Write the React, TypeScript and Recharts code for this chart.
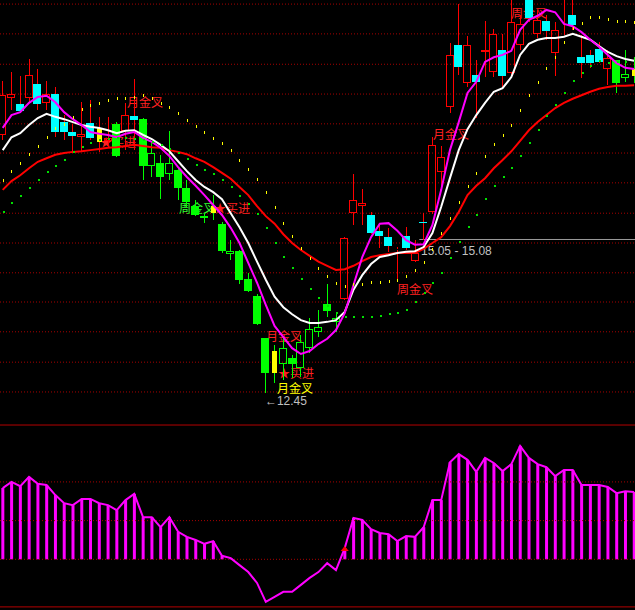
import React from 'react';
import {
  ComposedChart,
  Bar,
  Line,
  Scatter,
  XAxis,
  YAxis,
  ReferenceLine,
  ReferenceDot,
} from 'recharts';

// candle data (price), one per bar
const opens = [16.87, 17.50, 17.40, 17.50, 17.74, 17.42, 17.57, 17.09, 16.92, 16.83, 17.07, 16.99, 16.77, 17.06, 16.94, 17.19, 17.14, 16.34, 16.39, 16.20, 16.27, 15.96, 15.65, 15.48, 15.65, 15.35, 14.83, 14.88, 14.40, 14.11, 13.39, 13.17, 12.95, 13.05, 12.88, 13.22, 13.50, 13.98, 13.67, 14.06, 15.53, 15.65, 15.50, 15.23, 15.12, 14.90, 15.14, 14.71, 15.38, 15.55, 16.24, 17.35, 18.41, 17.76, 17.90, 18.29, 17.95, 18.32, 17.93, 18.41, 19.20, 18.60, 18.82, 18.27, 18.77, 18.92, 18.20, 18.24, 18.34, 18.00, 18.15, 17.85, 18.00];
const highs = [17.79, 17.95, 17.88, 18.17, 18.00, 17.79, 17.69, 17.21, 17.06, 17.43, 17.47, 17.18, 17.18, 17.09, 17.42, 17.83, 17.16, 16.73, 16.53, 16.94, 16.30, 16.10, 15.76, 15.53, 15.84, 15.38, 15.07, 14.90, 14.51, 14.15, 13.39, 13.27, 13.43, 13.10, 13.45, 13.74, 13.87, 14.32, 13.84, 15.12, 16.20, 15.94, 15.55, 15.36, 15.28, 14.95, 15.29, 15.07, 15.53, 16.83, 16.68, 18.44, 19.11, 18.56, 18.15, 18.82, 18.68, 18.60, 19.22, 18.92, 19.25, 19.01, 18.92, 18.80, 19.22, 19.22, 18.58, 18.32, 18.46, 18.32, 18.15, 18.32, 18.20];
const lows = [16.78, 17.30, 17.25, 17.42, 17.30, 17.30, 16.83, 16.78, 16.58, 16.58, 16.78, 16.58, 16.65, 16.49, 16.61, 16.61, 16.10, 16.15, 15.77, 16.10, 15.76, 15.64, 15.48, 15.36, 15.41, 14.85, 14.73, 14.32, 14.18, 13.62, 12.45, 12.62, 12.67, 12.71, 12.73, 13.14, 13.41, 13.75, 13.50, 14.04, 15.33, 15.33, 15.17, 14.94, 14.87, 14.39, 14.90, 14.70, 15.07, 15.52, 15.98, 17.25, 17.90, 17.69, 17.16, 17.86, 17.86, 17.69, 17.90, 18.32, 18.80, 18.53, 18.50, 17.88, 18.58, 18.67, 17.85, 18.02, 18.10, 17.72, 17.59, 17.78, 17.76];
const closes = [17.55, 17.57, 17.28, 17.90, 17.40, 17.57, 16.92, 16.92, 16.85, 16.89, 16.82, 16.75, 16.82, 16.51, 17.21, 17.13, 16.34, 16.56, 16.15, 16.39, 15.96, 15.72, 15.50, 15.45, 15.53, 14.88, 14.88, 14.39, 14.20, 13.63, 12.79, 12.79, 13.22, 12.95, 13.33, 13.55, 13.58, 13.86, 13.74, 15.11, 15.76, 15.71, 15.19, 15.14, 14.97, 14.92, 14.94, 14.85, 15.36, 16.70, 16.49, 18.24, 18.03, 18.41, 17.78, 18.32, 18.60, 17.88, 18.80, 18.77, 18.87, 18.84, 18.65, 18.67, 18.79, 18.75, 18.10, 18.10, 18.12, 18.19, 17.76, 17.91, 17.88];
// r red hollow, c cyan, g green, gh green hollow, yr/yg yellow with red/green wick
const kinds = ['r', 'r', 'c', 'r', 'c', 'r', 'c', 'c', 'c', 'r', 'c', 'yr', 'r', 'g', 'r', 'c', 'g', 'gh', 'g', 'gh', 'g', 'g', 'g', 'g', 'yg', 'g', 'gh', 'g', 'g', 'g', 'g', 'yg', 'gh', 'g', 'gh', 'gh', 'gh', 'g', 'gh', 'r', 'r', 'r', 'c', 'c', 'c', 'r', 'c', 'r', 'c', 'r', 'r', 'r', 'c', 'r', 'c', 'r', 'r', 'c', 'r', 'r', 'c', 'r', 'c', 'r', 'r', 'c', 'c', 'c', 'c', 'r', 'g', 'gh', 'yg'];

const maFast = [16.99, 17.21, 17.26, 17.42, 17.52, 17.54, 17.43, 17.26, 17.14, 17.04, 16.92, 16.89, 16.87, 16.83, 16.89, 16.92, 16.82, 16.75, 16.65, 16.51, 16.32, 16.15, 16.00, 15.84, 15.67, 15.50, 15.28, 15.02, 14.68, 14.34, 13.96, 13.60, 13.41, 13.22, 13.12, 13.17, 13.29, 13.38, 13.53, 13.82, 14.30, 14.78, 15.12, 15.35, 15.36, 15.23, 15.07, 14.99, 15.00, 15.33, 15.93, 16.61, 17.09, 17.59, 17.78, 18.12, 18.20, 18.24, 18.31, 18.67, 18.84, 18.91, 19.01, 18.97, 18.77, 18.73, 18.63, 18.50, 18.38, 18.24, 18.10, 18.02, 18.00];
const maMid = [16.61, 16.83, 16.90, 17.04, 17.16, 17.23, 17.18, 17.14, 17.09, 17.04, 17.01, 16.99, 16.95, 16.90, 16.94, 16.95, 16.87, 16.80, 16.70, 16.59, 16.42, 16.25, 16.10, 15.98, 15.89, 15.77, 15.53, 15.29, 15.02, 14.70, 14.39, 14.10, 13.92, 13.80, 13.70, 13.65, 13.65, 13.67, 13.70, 13.84, 14.22, 14.47, 14.66, 14.78, 14.81, 14.85, 14.87, 14.88, 14.95, 15.19, 15.64, 16.13, 16.61, 16.97, 17.21, 17.42, 17.61, 17.67, 17.86, 18.24, 18.43, 18.50, 18.53, 18.53, 18.55, 18.60, 18.55, 18.50, 18.39, 18.29, 18.22, 18.17, 18.14];
const maSlow = [15.93, 16.08, 16.18, 16.30, 16.41, 16.47, 16.53, 16.56, 16.58, 16.59, 16.61, 16.63, 16.65, 16.66, 16.68, 16.70, 16.68, 16.66, 16.65, 16.61, 16.58, 16.54, 16.47, 16.41, 16.32, 16.22, 16.12, 15.98, 15.84, 15.65, 15.48, 15.35, 15.17, 15.02, 14.90, 14.80, 14.70, 14.63, 14.56, 14.57, 14.63, 14.71, 14.78, 14.81, 14.83, 14.85, 14.85, 14.85, 14.92, 15.02, 15.12, 15.31, 15.55, 15.84, 16.00, 16.13, 16.30, 16.44, 16.59, 16.77, 16.95, 17.09, 17.21, 17.33, 17.42, 17.49, 17.55, 17.61, 17.66, 17.69, 17.71, 17.71, 17.72];
const upperDots = [16.10, 16.25, 16.39, 16.54, 16.68, 16.83, 16.99, 17.06, 17.18, 17.31, 17.38, 17.42, 17.47, 17.50, 17.50, 17.52, 17.55, 17.50, 17.42, 17.35, 17.25, 17.13, 17.02, 16.92, 16.82, 16.73, 16.61, 16.44, 16.29, 16.12, 15.89, 15.64, 15.36, 15.14, 14.94, 14.76, 14.59, 14.46, 14.34, 14.28, 14.32, 14.32, 14.35, 14.35, 14.37, 14.39, 14.46, 14.56, 14.70, 14.92, 15.19, 15.45, 15.72, 16.00, 16.22, 16.51, 16.71, 16.87, 17.04, 17.30, 17.55, 17.78, 18.02, 18.20, 18.46, 18.70, 18.79, 18.89, 18.89, 18.85, 18.82, 18.82, 18.80];
const lowerDots = [15.55, 15.71, 15.82, 15.96, 16.10, 16.24, 16.34, 16.44, 16.58, 16.66, 16.73, 16.78, 16.80, 16.82, 16.82, 16.80, 16.78, 16.75, 16.70, 16.63, 16.56, 16.46, 16.35, 16.27, 16.20, 16.10, 15.98, 15.82, 15.69, 15.52, 15.28, 15.02, 14.78, 14.59, 14.40, 14.23, 14.08, 13.94, 13.82, 13.75, 13.75, 13.75, 13.75, 13.77, 13.80, 13.82, 13.87, 14.01, 14.16, 14.34, 14.51, 14.76, 15.04, 15.29, 15.50, 15.77, 16.00, 16.15, 16.30, 16.51, 16.73, 16.95, 17.19, 17.38, 17.59, 17.79, 17.93, 18.05, 18.14, 18.10, 18.12, 18.12, 18.14];

// lower panel oscillator
const osc = [184, 200, 189, 213, 195, 192, 166, 145, 140, 156, 156, 145, 140, 127, 153, 169, 109, 109, 83, 109, 71, 58, 50, 40, 47, 9, 3, -15, -33, -61, -110, -97, -84, -84, -66, -48, -33, -10, -28, 29, 107, 102, 78, 68, 65, 47, 60, 58, 83, 153, 153, 251, 272, 257, 226, 262, 249, 228, 246, 293, 262, 246, 238, 215, 231, 231, 192, 192, 192, 187, 171, 176, 174];

const priceGrid = [19.11, 18.60, 18.08, 17.57, 17.06, 16.56, 16.05, 15.53, 15.02, 14.51, 14.01, 13.50, 12.98, 12.47];
const oscGrid = [0, 100, 200];
const oscFrame = [347, -123];
const markIndex = 39;

const notes = [
  { i: 14.17, p: 17.35, text: '月金叉', color: '#ff2020', font: 'cjk' },
  { i: 11.09, p: 16.66, text: '★买进', color: '#ff2020', font: 'cjk' },
  { i: 20.1, p: 15.53, text: '周金叉', color: '#30ff30', font: 'cjk' },
  { i: 24.1, p: 15.53, text: '★买进', color: '#ff2020', font: 'cjk' },
  { i: 30.02, p: 13.34, text: '月金叉', color: '#ff2020', font: 'cjk' },
  { i: 31.4, p: 12.71, text: '★买进', color: '#ff2020', font: 'cjk' },
  { i: 31.27, p: 12.46, text: '月金叉', color: '#ffff00', font: 'cjk' },
  { i: 29.9, p: 12.25, text: '←12.45', color: '#c0c0c0', font: 'num' },
  { i: 44.96, p: 14.15, text: '周金叉', color: '#ff2020', font: 'cjk' },
  { i: 47.7, p: 14.81, text: '15.05 - 15.08', color: '#c0c0c0', font: 'num' },
  { i: 49.06, p: 16.8, text: '月金叉', color: '#ff2020', font: 'cjk' },
  { i: 57.96, p: 18.87, text: '周金叉', color: '#ff2020', font: 'cjk' },
];
const rangeLine = { from: 47.5, to: 72.1, price: 15.08 };

const W = 635;
const TOP_H = 420;
const BOT_H = 190;
const xDomain = [-0.31, 72.1];
const priceDomain = [11.99, 19.18];
const oscDomain = [-131, 360];
const margin = { top: 0, right: 0, bottom: 0, left: 0 };

const data = opens.map((o, i) => ({
  i,
  o,
  h: highs[i],
  l: lows[i],
  c: closes[i],
  kind: kinds[i],
  range: [lows[i], highs[i]],
  fast: maFast[i],
  mid: maMid[i],
  slow: maSlow[i],
  up: upperDots[i],
  dn: lowerDots[i],
  osc: osc[i],
  hist: osc[i] > 0 ? osc[i] : 0,
}));

const RED = '#ff0000';
const CYAN = '#00ffff';
const GREEN = '#00ff00';
const YELLOW = '#ffff00';

const Candle = (props: any) => {
  const { x, y, width, height, payload } = props;
  if (!payload || x == null) return null;
  const top = Math.min(y, y + height);
  const bot = Math.max(y, y + height);
  const span = payload.h - payload.l;
  const py = (v: number) => (span > 0 ? top + ((payload.h - v) / span) * (bot - top) : top);
  const cx = Math.round(x + width / 2);
  const yHi = Math.round(top);
  const yLo = Math.round(bot);
  const bTop = Math.round(py(Math.max(payload.o, payload.c)));
  const bBot = Math.max(bTop + 1, Math.round(py(Math.min(payload.o, payload.c))));
  const k = payload.kind;
  const wick = k === 'g' || k === 'gh' || k === 'yg' ? GREEN : RED;
  const wx = cx + 0.5;

  if (k === 'r' || k === 'gh') {
    const col = k === 'r' ? RED : GREEN;
    return (
      <g>
        <line x1={wx} x2={wx} y1={yHi} y2={bTop} stroke={col} />
        <line x1={wx} x2={wx} y1={bBot} y2={yLo} stroke={col} />
        <rect x={cx - 3.5} y={bTop + 0.5} width={7} height={Math.max(0, bBot - bTop - 1)} fill="none" stroke={col} />
      </g>
    );
  }
  const fill = k === 'c' ? CYAN : k === 'g' ? GREEN : YELLOW;
  const narrow = k === 'yr' || k === 'yg';
  return (
    <g>
      <line x1={wx} x2={wx} y1={yHi} y2={yLo} stroke={wick} />
      <rect x={narrow ? cx - 2 : cx - 4} y={bTop} width={narrow ? 5 : 8} height={bBot - bTop} fill={fill} />
    </g>
  );
};

const UpDot = (p: any) =>
  p.cx == null ? <g key={p.index} /> : <rect key={p.index} x={Math.round(p.cx)} y={Math.round(p.cy) - 1} width={1} height={3} fill={YELLOW} />;
const DnDot = (p: any) =>
  p.cx == null ? <g key={p.index} /> : <rect key={p.index} x={Math.round(p.cx)} y={Math.round(p.cy) - 1} width={2} height={2} fill="#00e000" />;

const NoteText = (p: any) => {
  const n = p.payload;
  if (!n || p.cx == null) return null;
  return (
    <text
      x={p.cx}
      y={p.cy}
      fill={n.color}
      fontSize={12}
      fontFamily={n.font === 'cjk' ? '"Noto Sans CJK SC", sans-serif' : '"Liberation Sans", Arial, sans-serif'}
    >
      {n.text}
    </text>
  );
};

const Tri = (p: any) => (
  <polygon points={`${p.cx - 4},${p.cy + 3} ${p.cx + 4},${p.cy + 3} ${p.cx},${p.cy - 2}`} fill={RED} />
);

export default function App() {
  return (
    <div style={{ position: 'fixed', left: 0, top: 0, width: W, height: 610, background: '#000', overflow: 'hidden' }}>
      {/* grid and annotations, underneath */}
      <div style={{ position: 'absolute', left: 0, top: 0 }}>
        <ComposedChart width={W} height={TOP_H} data={data} margin={margin}>
          <XAxis dataKey="i" type="number" domain={xDomain} allowDataOverflow hide />
          <YAxis type="number" domain={priceDomain} allowDataOverflow hide />
          {priceGrid.map((v) => (
            <ReferenceLine key={v} y={v} stroke="#a80000" strokeDasharray="1 2" />
          ))}
          <ReferenceLine
            segment={[{ x: rangeLine.from, y: rangeLine.price }, { x: rangeLine.to, y: rangeLine.price }]}
            stroke="#9a9a9a"
          />
          <Scatter data={notes} dataKey="p" shape={NoteText} isAnimationActive={false} />
        </ComposedChart>
      </div>

      {/* price panel */}
      <div style={{ position: 'absolute', left: 0, top: 0 }}>
        <ComposedChart width={W} height={TOP_H} data={data} margin={margin}>
          <XAxis dataKey="i" type="number" domain={xDomain} allowDataOverflow hide />
          <YAxis type="number" domain={priceDomain} allowDataOverflow hide />
          <Bar dataKey="range" barSize={8} shape={Candle} activeBar={false} isAnimationActive={false} />
          <Line dataKey="up" stroke="none" dot={UpDot} activeDot={false} isAnimationActive={false} />
          <Line dataKey="dn" stroke="none" dot={DnDot} activeDot={false} isAnimationActive={false} />
          <Line dataKey="slow" type="linear" stroke={RED} strokeWidth={2} dot={false} activeDot={false} isAnimationActive={false} />
          <Line dataKey="mid" type="linear" stroke="#ffffff" strokeWidth={2} dot={false} activeDot={false} isAnimationActive={false} />
          <Line dataKey="fast" type="linear" stroke="#ff00ff" strokeWidth={2} dot={false} activeDot={false} isAnimationActive={false} />
        </ComposedChart>
      </div>

      {/* oscillator panel */}
      <div style={{ position: 'absolute', left: 0, top: TOP_H }}>
        <ComposedChart width={W} height={BOT_H} data={data} margin={margin}>
          <XAxis dataKey="i" type="number" domain={xDomain} allowDataOverflow hide />
          <YAxis type="number" domain={oscDomain} allowDataOverflow hide />
          {oscGrid.map((v) => (
            <ReferenceLine key={v} y={v} stroke="#a80000" strokeDasharray="1 2" />
          ))}
          {oscFrame.map((v) => (
            <ReferenceLine key={`f${v}`} y={v} stroke="#b40000" />
          ))}
          <Bar dataKey="hist" barSize={3} fill="#ff00ff" activeBar={false} isAnimationActive={false} />
          <Line dataKey="osc" type="linear" stroke="#ff00ff" strokeWidth={2} dot={false} activeDot={false} isAnimationActive={false} />
          <ReferenceDot x={markIndex} y={osc[markIndex]} shape={Tri} />
        </ComposedChart>
      </div>
    </div>
  );
}
